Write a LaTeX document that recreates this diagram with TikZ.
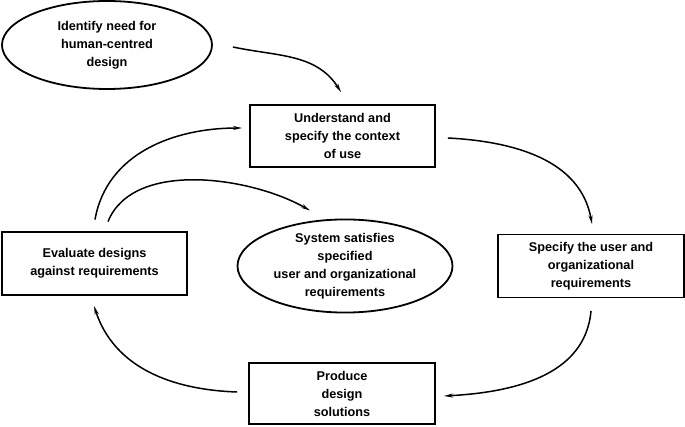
\documentclass[tikz,border=0pt]{standalone}
\usepackage{fontspec}
\setmainfont{Liberation Sans}
\usetikzlibrary{shapes.geometric,arrows.meta}
\begin{document}
\begin{tikzpicture}[x=1pt,y=1pt,
  every node/.style={font=\fontsize{12.7}{18}\selectfont\bfseries, align=center, inner sep=0pt},
  box/.style={draw, line width=1.8pt, rectangle, minimum width=185pt, minimum height=62pt},
  oval/.style={draw, line width=1.8pt, ellipse},
  conn/.style={line width=1.5pt, -{Stealth[length=9pt,width=4pt]}}]
\useasboundingbox (0,0) rectangle (685,426);
\node[oval, minimum width=210pt, minimum height=88pt] (need) at (107,381) {Identify need for\\human-centred\\design};
\node[box] (ctx) at (342.5,290) {Understand and\\specify the context\\of use};
\node[box, minimum height=63pt] (eval) at (94.5,162.5) {Evaluate designs\\against requirements};
\node[oval, minimum width=215pt, minimum height=93pt] (sys) at (345,160) {System satisfies\\specified\\user and organizational\\requirements};
\node[box, minimum height=63pt, minimum width=186pt] (spec) at (591,160) {Specify the user and\\organizational\\requirements};
\node[box, minimum height=61pt, minimum width=186pt] (prod) at (342,32.5) {Produce\\design\\solutions};
\draw[conn] ([shift={(20,-2)}]need.east) to[out=-12,in=122] ([shift={(-1.5,12)}]ctx.north);
\draw[conn] ([shift={(12,-2)}]ctx.east) to[out=-3,in=100] ([shift={(1,9.5)}]spec.north);
\draw[conn] ([shift={(0,-12.5)}]spec.south) to[out=-95,in=3] ([shift={(8,-2.5)}]prod.east);
\draw[conn] ([shift={(-11,1.5)}]prod.west) to[out=178,in=-72] ([shift={(-0.5,-10)}]eval.south);
\draw[conn] ([shift={(0.5,11.5)}]eval.north) to[out=80,in=180] ([shift={(-7,8)}]ctx.west);
\draw[conn] ([shift={(13.5,9.5)}]eval.north) to[out=68,in=150,looseness=0.85] ([shift={(-35,8)}]sys.north);
\end{tikzpicture}
\end{document}
